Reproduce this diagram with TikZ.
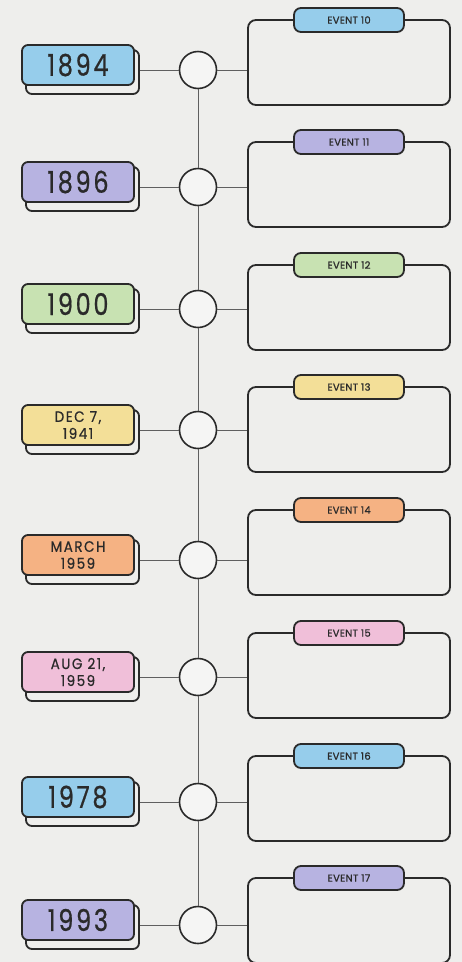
\documentclass[tikz,border=0pt]{standalone}
\usepackage{fontspec}
\setmainfont{Poppins}
\newfontfamily\datefont[FakeStretch=0.8,LetterSpace=9,FakeBold=0.6]{Poppins}
\newfontfamily\smallfont[FakeStretch=0.9,LetterSpace=10,FakeBold=0.6]{Poppins}
\newfontfamily\tabfont[LetterSpace=3,FakeBold=1]{Poppins}
\definecolor{bg}{HTML}{EEEEEC}
\definecolor{ink}{HTML}{2A2A2A}
\definecolor{cblue}{HTML}{96CDEB}
\definecolor{cpurple}{HTML}{B7B3E1}
\definecolor{cgreen}{HTML}{C8E2B2}
\definecolor{cyellow}{HTML}{F3DF98}
\definecolor{corange}{HTML}{F5B283}
\definecolor{cpink}{HTML}{F0BFD9}
\tikzset{
  datebox/.style={draw=ink,line width=1.8pt,rounded corners=6pt,minimum width=112pt,minimum height=40pt,inner sep=0pt,align=center,text=ink},
  shadowbox/.style={draw=ink,line width=1.8pt,rounded corners=6pt,minimum width=113pt,minimum height=44pt,fill=bg},
  dotnode/.style={circle,draw=ink,line width=1.6pt,minimum size=37pt,inner sep=0pt,fill=bg!60!white},
  eventbox/.style={draw=ink,line width=1.8pt,rounded corners=8pt,minimum width=202pt,minimum height=85pt,inner sep=0pt},
  tabbox/.style={draw=ink,line width=1.8pt,rounded corners=7pt,minimum width=110pt,minimum height=24pt,inner sep=0pt,text=ink,font=\tabfont\fontsize{10}{10}\selectfont},
  link/.style={draw=ink!75,line width=0.9pt},
  bigdate/.style={font=\datefont\fontsize{30}{30}\selectfont},
  smalldate/.style={font=\smallfont\fontsize{15}{17}\selectfont}
}
\begin{document}
\begin{tikzpicture}[x=1pt,y=-1pt]
\fill[bg] (0,0) rectangle (462,962);
\useasboundingbox (0,0) rectangle (462,962);
\foreach \i/\cy/\bt/\col/\ds/\dt/\ev in {
  1/70/20/cblue/bigdate/{1894}/{EVENT 10},
  2/187/142/cpurple/bigdate/{1896}/{EVENT 11},
  3/309/265/cgreen/bigdate/{1900}/{EVENT 12},
  4/430/387/cyellow/smalldate/{DEC 7,\\1941}/{EVENT 13},
  5/560/510/corange/smalldate/{MARCH\\1959}/{EVENT 14},
  6/677/633/cpink/smalldate/{AUG 21,\\1959}/{EVENT 15},
  7/802/756/cblue/bigdate/{1978}/{EVENT 16},
  8/925/878/cpurple/bigdate/{1993}/{EVENT 17}}{
  \node[shadowbox] (shadow\i) at (82.5,\cy+2) {};
  \node[datebox,fill=\col,\ds] (date\i) at (78,\cy-5) {\dt};
  \node[dotnode] (dot\i) at (198,\cy) {};
  \node[eventbox] (ev\i) at (349,\bt+42.5) {};
  \node[tabbox,fill=\col] (tab\i) at (349,\bt) {\ev};
  \draw[link] (dot\i.west) -- (dot\i.west -| shadow\i.east);
  \draw[link] (dot\i.east) -- (dot\i.east -| ev\i.west);
}
\foreach \a/\b in {1/2,2/3,3/4,4/5,5/6,6/7,7/8}{
  \draw[link] (dot\a.south) -- (dot\b.north);
}
\end{tikzpicture}
\end{document}
